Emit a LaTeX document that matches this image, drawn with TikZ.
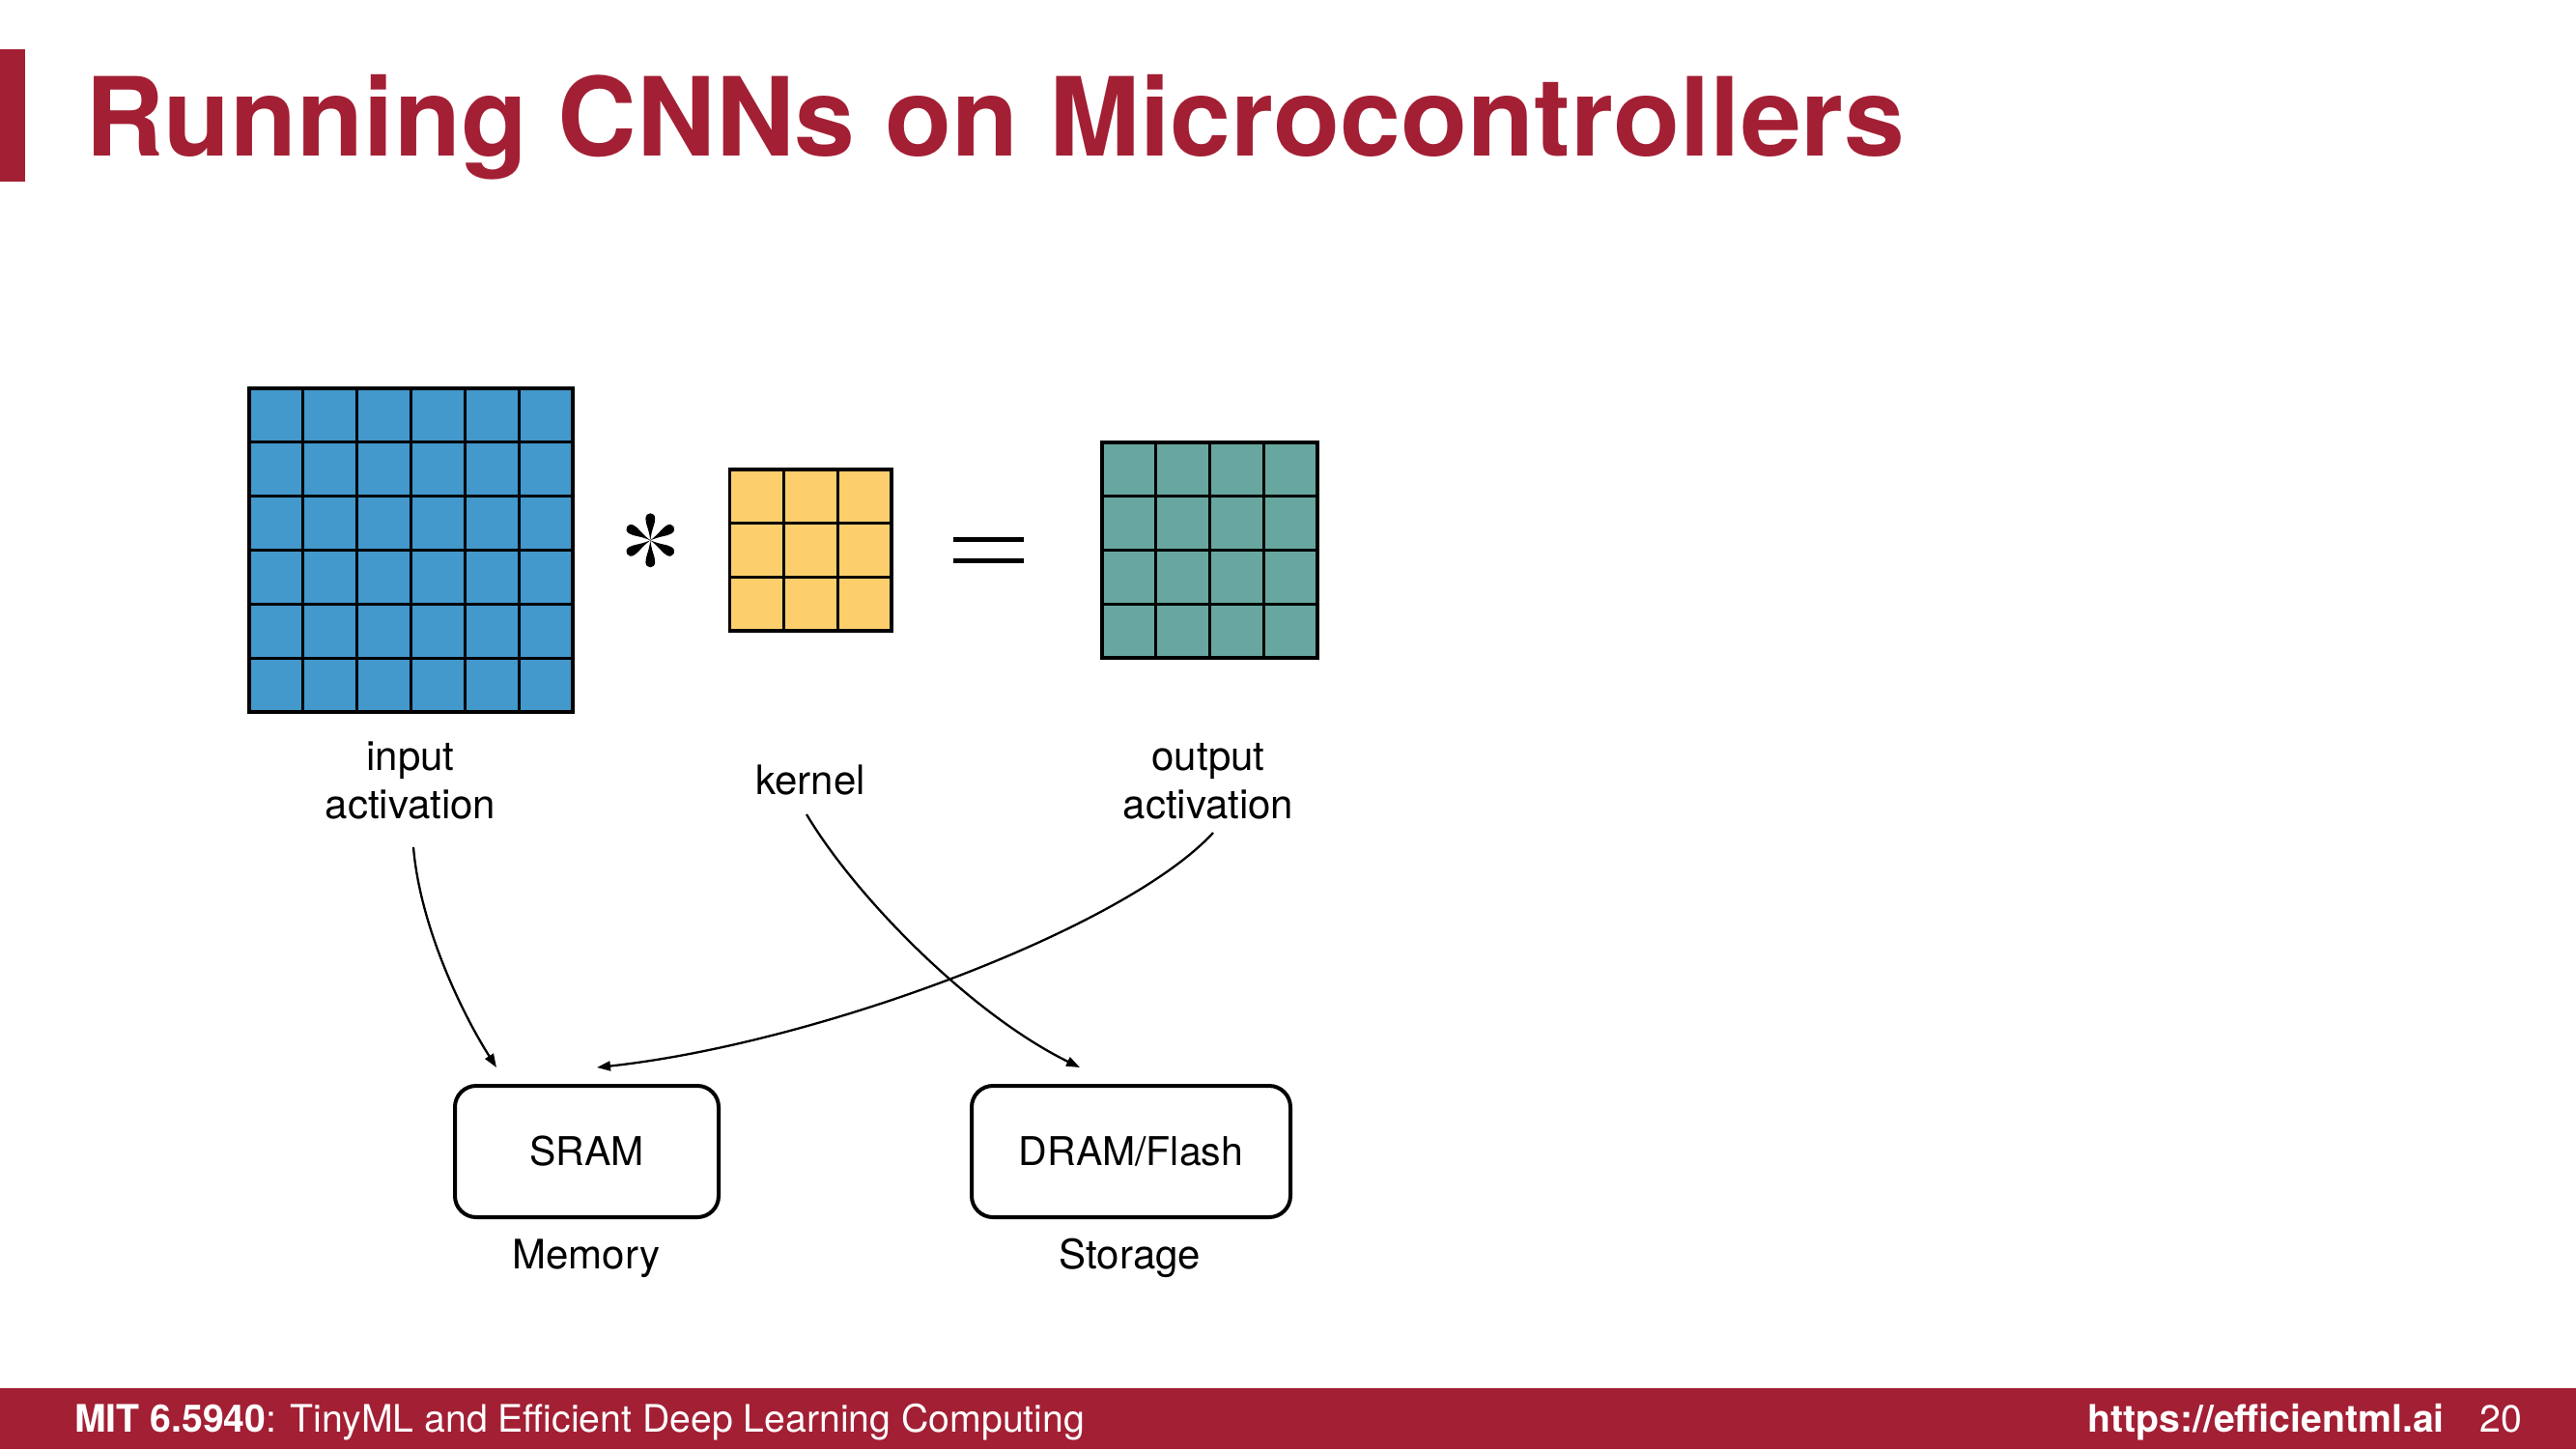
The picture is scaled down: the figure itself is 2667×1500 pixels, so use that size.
\documentclass[tikz,border=0pt]{standalone}
\usepackage{fontspec}
\setmainfont{TeX Gyre Heros}
\usetikzlibrary{arrows.meta}
\definecolor{mitred}{RGB}{163,31,52}
\definecolor{inblue}{RGB}{67,152,204}
\definecolor{kyellow}{RGB}{252,207,108}
\definecolor{oteal}{RGB}{104,167,160}
\newcommand{\drawcellgrid}[4]{%
  \fill[#4] (#1,#2) rectangle ({#1+55.8*#3},{#2+55.8*#3});
  \foreach \k in {1,...,#3} {
    \draw[gridline] ({#1+55.8*\k},#2) -- ({#1+55.8*\k},{#2+55.8*#3});
    \draw[gridline] (#1,{#2+55.8*\k}) -- ({#1+55.8*#3},{#2+55.8*\k});
  }
  \draw[gridborder] (#1,#2) rectangle ({#1+55.8*#3},{#2+55.8*#3});
}
\begin{document}
\begin{tikzpicture}[x=1pt,y=-1pt,
  gridline/.style={line width=3pt,black,line cap=rect},
  gridborder/.style={line width=3.6pt,black,line join=miter},
  lbl/.style={font=\fontsize{42}{50}\selectfont,anchor=base,inner sep=0pt},
  membox/.style={draw,line width=4pt,rounded corners=22pt,minimum height=136pt,
    font=\fontsize{41}{41}\selectfont,text height=29pt,text depth=0pt,inner sep=0pt},
  conn/.style={line width=2.3pt,-{Triangle[length=14pt,width=10pt]}},
  foot/.style={text=white,font=\fontsize{39.2}{40}\selectfont,inner sep=0pt}
]
\useasboundingbox (0,0) rectangle (2667,1500);
\fill[white] (0,0) rectangle (2667,1500);

% title
\fill[mitred] (0,51) rectangle (26,188);
\node[anchor=base west,text=mitred,inner sep=0pt,
  font=\fontsize{113}{113}\selectfont\bfseries] (title) at (88,161)
  {Running CNNs on Microcontrollers};

% grids
\drawcellgrid{258}{402.1}{6}{inblue}
\drawcellgrid{755.6}{485.8}{3}{kyellow}
\drawcellgrid{1141}{457.9}{4}{oteal}

% operators: asterisk with six teardrop petals
\coordinate (ast) at (673.3,559.3);
\foreach \a in {0,60,120,180,240,300} {
  \fill[black,shift={(ast)},rotate=\a]
    (0,0) .. controls (1.6,13) and (4.9,16) .. (4.9,22.5)
    .. controls (4.9,26) and (2.6,28) .. (0,28)
    .. controls (-2.6,28) and (-4.9,26) .. (-4.9,22.5)
    .. controls (-4.9,16) and (-1.6,13) .. (0,0) -- cycle;
}
\fill[black] (987,555.5) rectangle (1060,561);
\fill[black] (987,577.5) rectangle (1060,583);

% labels
\node[lbl] (in1) at (425,797) {input};
\node[lbl] (in2) at (425,847) {activation};
\node[lbl] (ker) at (839,822) {kernel};
\node[lbl] (out1) at (1251,797) {output};
\node[lbl] (out2) at (1251,847) {activation};

% boxes
\node[membox,minimum width=273pt] (sram) at (607.5,1192) {SRAM};
\node[membox,minimum width=330pt] (dram) at (1171,1192) {DRAM/Flash};
\node[lbl] (mem) at (607,1313) {Memory};
\node[lbl] (sto) at (1170,1313) {Storage};

% connector ends
\coordinate (a1s) at (428,877);
\coordinate (a1e) at (514,1105);
\coordinate (a2s) at (835,843);
\coordinate (a2e) at (1118,1105);
\coordinate (a3s) at (1256,862);
\coordinate (a3e) at (618,1105);

\draw[conn] (a1s) .. controls (435,960) and (479,1050) .. (a1e);
\draw[conn] (a2s) .. controls (887,930) and (1006,1050) .. (a2e);
\draw[conn] (a3s) .. controls (1166,960) and (848,1080) .. (a3e);

% footer
\fill[mitred] (0,1437) rectangle (2667,1500);
\node[foot,anchor=base west] (course) at (77,1482)
  {\textbf{MIT 6.5940}: TinyML and Efficient Deep Learning Computing};
\node[foot,anchor=base east] (url) at (2531,1482) {\textbf{https://efficientml.ai}};
\node[foot,anchor=base east] (page) at (2611,1482) {20};
\end{tikzpicture}
\end{document}
